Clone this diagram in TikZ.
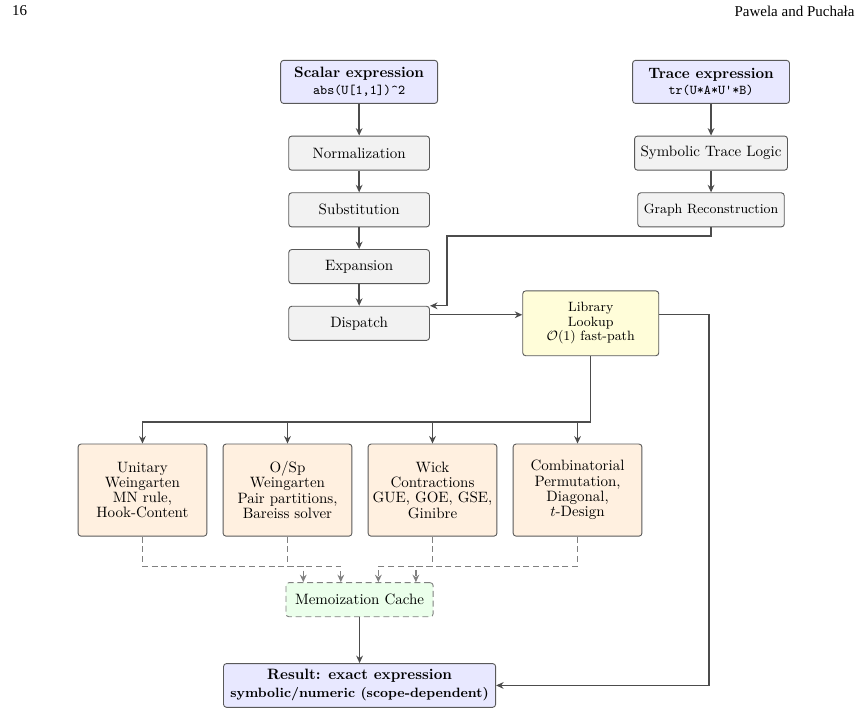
\documentclass[tikz,border=0pt]{standalone}
\usepackage{fontspec}
\newfontfamily\headfont{Liberation Serif}
\usepackage{amsmath, amssymb}
\usepackage{xcolor}
\usetikzlibrary{positioning, arrows.meta, calc}

\begin{document}
\begin{tikzpicture}[
  inbox/.style={
    rectangle, draw=black!65, fill=blue!9, semithick,
    rounded corners=2pt, align=center,
    minimum width=3.68cm, minimum height=1.01cm, inner sep=4pt
  },
  stagebox/.style={
    rectangle, draw=black!65, fill=gray!10, semithick,
    rounded corners=2pt, align=center,
    minimum width=3.3cm, minimum height=0.8cm, inner sep=4pt
  },
  libbox/.style={
    rectangle, draw=black!65, fill=yellow!15, semithick,
    rounded corners=2pt, align=center,
    minimum width=3.19cm, minimum height=1.52cm, inner sep=4pt,
    font=\fontsize{9}{9.7}\selectfont
  },
  methbox/.style={
    rectangle, draw=black!65, fill=orange!12, semithick,
    rounded corners=2pt, align=center,
    minimum width=3.02cm, minimum height=2.16cm, inner sep=3pt,
    font=\fontsize{10}{10.2}\selectfont
  },
  cachebox/.style={
    rectangle, draw=gray, dash pattern=on 4pt off 2.5pt, fill=green!8, semithick,
    rounded corners=2pt, align=center,
    minimum width=3.45cm, minimum height=0.8cm, inner sep=4pt
  },
  resbox/.style={inbox, minimum width=6.38cm},
  pipe/.style={-{Stealth[length=5pt, width=4.5pt]}, black!70, line width=0.9pt},
  feed/.style={-{Stealth[length=5pt, width=4.5pt]}, gray, line width=0.9pt,
    dash pattern=on 4pt off 2.5pt},
]
\useasboundingbox (0,0) rectangle (20.35,-16.74);

%% ── Page header ──────────────────────────────────────────────────────────────
\node[font=\headfont, anchor=west, inner sep=0pt] (pagenum) at (0.28,-0.26) {16};
\node[font=\headfont, anchor=east, inner sep=0pt] (authors) at (20.04,-0.26) {Pawela and Puchała};

%% ── Inputs ───────────────────────────────────────────────────────────────────
\node[inbox] (scalar) at (8.42,-1.92) {%
  \textbf{Scalar expression}\\[-1pt]
  {\small\ttfamily abs(U[1,1])\textasciicircum 2}
};
\node[inbox] (trace) at (16.67,-1.92) {%
  \textbf{Trace expression}\\[-1pt]
  {\small\ttfamily tr(U*A*U'*B)}
};

%% ── Scalar pipeline ──────────────────────────────────────────────────────────
\node[stagebox] (norm)  at (8.42,-3.59) {Normalization};
\node[stagebox] (subst) at (8.42,-4.92) {Substitution};
\node[stagebox] (expan) at (8.42,-6.25) {Expansion};
\node[stagebox] (disp)  at (8.42,-7.58) {Dispatch};

%% ── Trace pipeline ───────────────────────────────────────────────────────────
\node[stagebox] (symb)  at (16.67,-3.59) {Symbolic Trace Logic};
\node[stagebox, minimum width=3.4cm, font=\small] (graph) at (16.67,-4.92) {Graph Reconstruction};

%% ── Library lookup ───────────────────────────────────────────────────────────
\node[libbox] (library) at (13.85,-7.58) {%
  Library\\
  Lookup\\
  $\mathcal{O}(1)$ fast-path
};

%% ── Back-ends ────────────────────────────────────────────────────────────────
\node[methbox] (unitary) at (3.34,-11.49) {%
  Unitary\\ Weingarten\\ MN rule,\\ Hook-Content
};
\node[methbox] (osp) at (6.74,-11.49) {%
  O/Sp\\ Weingarten\\ Pair partitions,\\ Bareiss solver
};
\node[methbox] (wick) at (10.14,-11.49) {%
  Wick\\ Contractions\\ GUE, GOE, GSE,\\ Ginibre
};
\node[methbox] (comb) at (13.54,-11.49) {%
  Combinatorial\\ Permutation,\\ Diagonal,\\ $t$-Design
};

%% ── Cache and result ─────────────────────────────────────────────────────────
\node[cachebox] (memo) at (8.43,-14.06) {Memoization Cache};
\node[resbox] (result) at (8.43,-16.07) {%
  \textbf{Result: exact expression}\\
  {\small\bfseries symbolic/numeric (scope-dependent)}
};

%% ── Arrows ───────────────────────────────────────────────────────────────────
\draw[pipe] (scalar.south) -- (norm.north);
\draw[pipe] (norm.south)   -- (subst.north);
\draw[pipe] (subst.south)  -- (expan.north);
\draw[pipe] (expan.south)  -- (disp.north);
\draw[pipe] (trace.south)  -- (symb.north);
\draw[pipe] (symb.south)   -- (graph.north);

\coordinate (gturn) at (10.48,-5.53);
\draw[pipe] (graph.south) |- (gturn) |- (disp.north east);

\draw[pipe] ([yshift=5.7pt]disp.east) -- ([yshift=5.7pt]library.west);
\draw[pipe] ([yshift=5.7pt]library.east) -- ++(1.17,0) |- (result.east);

\coordinate (split) at (13.85,-9.89);
\draw[pipe, -] (library.south) -- (split);
\foreach \b in {unitary, osp, wick, comb}
  \draw[pipe] (split) -| (\b.north);

\draw[feed] (unitary.south) -- ++(0,-0.7) -| ([xshift=-1.32cm]memo.north);
\draw[feed] (osp.south)     -- ++(0,-0.7) -| ([xshift=-0.44cm]memo.north);
\draw[feed] (wick.south)    -- ++(0,-0.7) -| ([xshift=0.44cm]memo.north);
\draw[feed] (comb.south)    -- ++(0,-0.7) -| ([xshift=1.32cm]memo.north);

\draw[pipe] (memo.south) -- (result.north);

\end{tikzpicture}
\end{document}
